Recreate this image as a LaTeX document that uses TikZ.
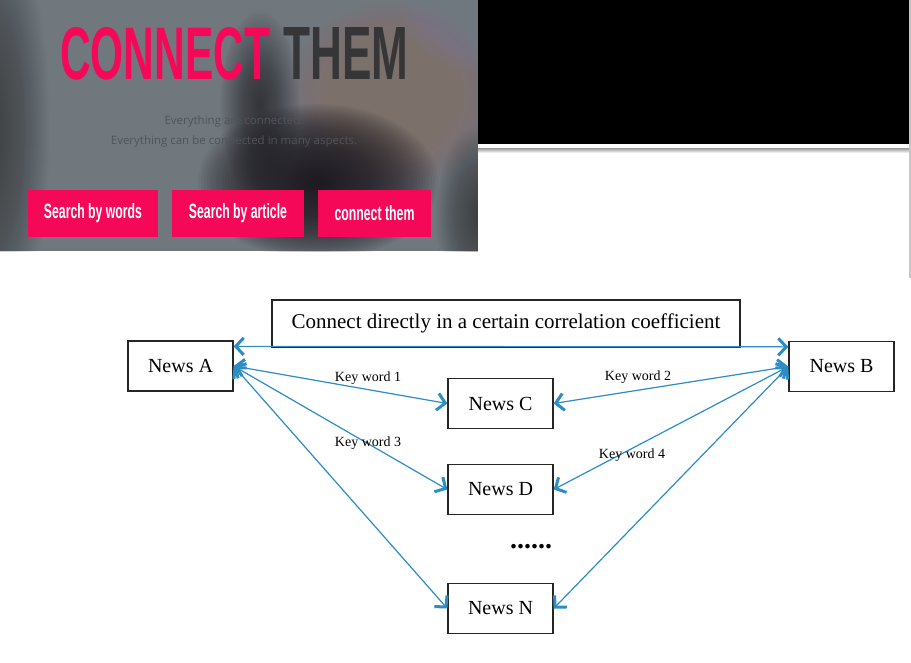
\documentclass[tikz,border=0pt]{standalone}
\usepackage{fontspec}
\setmainfont{Liberation Serif}
\setsansfont{Liberation Sans}
\newfontfamily\subfont{Open Sans}
\usetikzlibrary{arrows.meta}

\definecolor{brandpink}{RGB}{245,8,88}
\definecolor{titlegray}{RGB}{54,54,56}
\definecolor{subgray}{RGB}{80,84,90}
\definecolor{linkblue}{RGB}{44,140,196}
\definecolor{bannerbase}{RGB}{112,120,126}
\definecolor{bannerdark}{RGB}{30,27,33}
\definecolor{bannerbrown}{RGB}{140,112,106}
\definecolor{bannerblue}{RGB}{122,136,150}

% soft blob for the blurred photo: many stacked ellipses, densest in the middle
% #1 colour, #2 opacity of one layer, #3 centre, #4 x radius, #5 y radius
\newcommand\bannerblob[5]{%
  \foreach \k in {1,...,40}{%
    \fill[#1, opacity=#2] #3 ellipse ({#4*\k/40} and {#5*\k/40});
  }%
}

\tikzset{
  barb/.tip={Straight Barb[length=8pt,width=17pt,line width=3pt]},
  link/.style={draw=linkblue, line width=1.2pt, barb-barb},
  newsbox/.style={draw=black!85, line width=1.3pt, fill=white, inner sep=0pt,
    minimum width=105pt, minimum height=50pt, font=\fontsize{20}{24}\selectfont},
  kwlabel/.style={inner sep=0pt, font=\fontsize{14}{16}\selectfont},
  btn/.style={fill=brandpink, inner sep=0pt, minimum height=47pt, text=white},
}

\begin{document}
\begin{tikzpicture}[x=1pt,y=-1pt]
\useasboundingbox (0,0) rectangle (911,662);
\fill[white] (0,0) rectangle (911,662);

% ---------- web page banner ----------
\begin{scope}
  \clip (0,0) rectangle (478,251);
  \fill[bannerbase] (0,0) rectangle (478,251);
  \bannerblob{black}{0.011}{(-10,130)}{60}{220}
  \bannerblob{white}{0.004}{(120,150)}{140}{90}
  \bannerblob{bannerbrown}{0.06}{(392,95)}{105}{95}
  \bannerblob{bannerblue}{0.045}{(472,15)}{70}{55}
  \bannerblob{bannerdark}{0.025}{(260,105)}{40}{95}
  \bannerblob{bannerdark}{0.06}{(318,182)}{120}{78}
  \bannerblob{black}{0.011}{(480,215)}{45}{90}
  \bannerblob{white}{0.005}{(150,252)}{150}{18}
\end{scope}

\node[anchor=south west, inner sep=0pt, text=brandpink] (ttlA) at (60,80)
  {\resizebox{210pt}{52pt}{\sffamily\bfseries CONNECT}};
\node[anchor=south west, inner sep=0pt, text=titlegray] (ttlB) at (283,80)
  {\resizebox{125pt}{52pt}{\sffamily\bfseries THEM}};

\node[inner sep=0pt, text=subgray] (sub1) at (234,122)
  {\subfont\fontsize{11.5}{13}\selectfont Everything are connected.};
\node[inner sep=0pt, text=subgray] (sub2) at (234,142)
  {\subfont\fontsize{11.5}{13}\selectfont Everything can be connected in many aspects.};

\node[btn, minimum width=130pt] (b1) at (93,213.5)
  {\raisebox{-3pt}{\resizebox{98pt}{15pt}{\sffamily\bfseries Search by words}}};
\node[btn, minimum width=132pt] (b2) at (238,213.5)
  {\raisebox{-3pt}{\resizebox{98pt}{15pt}{\sffamily\bfseries Search by article}}};
\node[btn, minimum width=113pt] (b3) at (374.5,213.5)
  {\raisebox{-3pt}{\resizebox{80pt}{15pt}{\sffamily\bfseries connect them}}};

% ---------- black panel ----------
\fill[black] (478,0) rectangle (909,144);
\fill[top color=black!40, bottom color=white] (478,148) rectangle (909,153);
\fill[black!22] (909,0) rectangle (911,278);

% ---------- news graph ----------
\node[newsbox, minimum width=468pt, minimum height=47pt, font=\fontsize{21}{24}\selectfont] (top) at (506,323.5)
  {Connect directly in a certain correlation coefficient};
\node[newsbox] (A) at (180.5,366) {News A};
\node[newsbox] (B) at (841.5,366.5) {News B};
\node[newsbox] (C) at (500.5,403.5) {News C};
\node[newsbox] (D) at (500.5,489.5) {News D};
\node[newsbox] (N) at (500.5,608.5) {News N};
\node[inner sep=0pt, font=\fontsize{28}{30}\selectfont\bfseries] (dots) at (531,547) {......};

\draw[link] ([yshift=-6pt]A.north east) -- ([yshift=-6pt]B.north west);
\draw[link] (A.east) -- (C.west);
\draw[link] (B.west) -- (C.east);
\draw[link] (A.east) -- (D.west);
\draw[link] (B.west) -- (D.east);
\draw[link] (A.east) -- (N.west);
\draw[link] (B.west) -- (N.east);

\node[kwlabel] (kw1) at (368,378) {Key word 1};
\node[kwlabel] (kw2) at (638,377) {Key word 2};
\node[kwlabel] (kw3) at (368,443) {Key word 3};
\node[kwlabel] (kw4) at (632,455) {Key word 4};
\end{tikzpicture}
\end{document}
